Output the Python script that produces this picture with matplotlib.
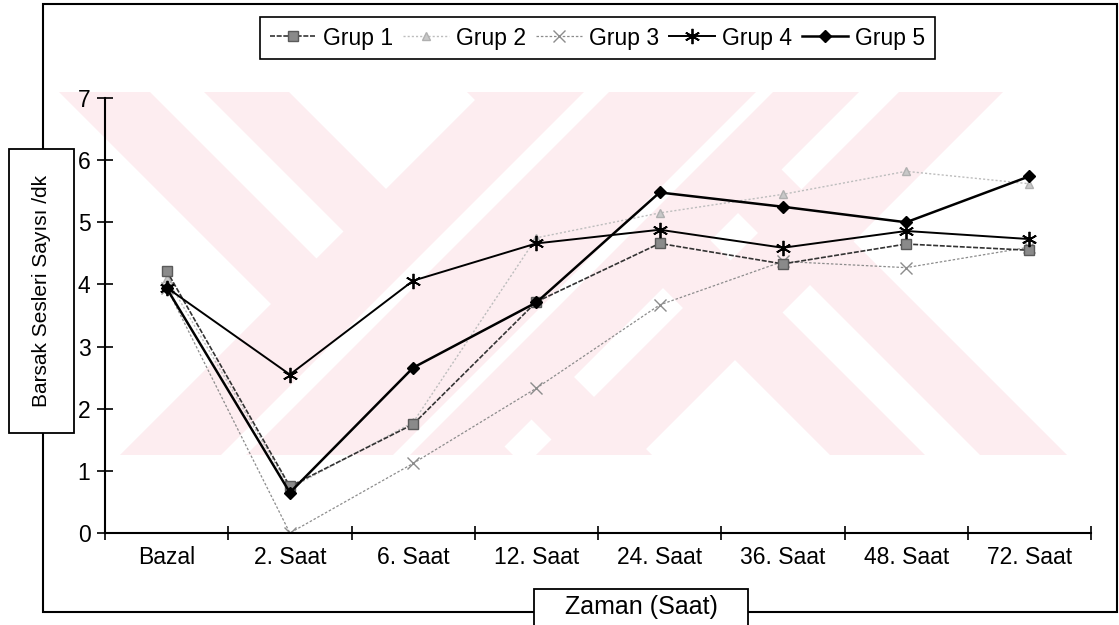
import matplotlib
matplotlib.use('Agg')
import numpy as np
import matplotlib.pyplot as plt
from matplotlib.patches import Polygon, Rectangle

plt.rcParams['font.family'] = ['Liberation Sans', 'DejaVu Sans']

# data
categories = ['Bazal', '2. Saat', '6. Saat', '12. Saat', '24. Saat', '36. Saat', '48. Saat', '72. Saat']
grup1 = [4.22, 0.75, 1.75, 3.72, 4.66, 4.33, 4.65, 4.55]
grup2 = [4.10, 0.72, 1.78, 4.75, 5.15, 5.45, 5.82, 5.62]
grup3 = [3.95, 0.00, 1.12, 2.33, 3.67, 4.37, 4.27, 4.60]
grup4 = [3.95, 2.55, 4.06, 4.66, 4.88, 4.59, 4.86, 4.73]
grup5 = [3.94, 0.65, 2.66, 3.71, 5.48, 5.25, 5.00, 5.74]
series_names = ['Grup 1', 'Grup 2', 'Grup 3', 'Grup 4', 'Grup 5']

W, H = 1119, 625
fig = plt.figure(figsize=(W / 100, H / 100), dpi=100)

def px(x, y):
    # pixel (from top-left) -> figure fraction
    return (x / W, 1 - y / H)

# --- faint watermark in the background
pink = '#fdedf0'
y0, y1 = 92, 455
def band(a, b, back, color):
    if back:   # "\" band, x - y in [a, b]
        pts = [(a + y0, y0), (b + y0, y0), (b + y1, y1), (a + y1, y1)]
    else:      # "/" band, x + y in [a, b]
        pts = [(a - y0, y0), (b - y0, y0), (b - y1, y1), (a - y1, y1)]
    fig.add_artist(Polygon([px(*p) for p in pts], closed=True, facecolor=color,
                           edgecolor='none', transform=fig.transFigure, zorder=-5))

band(-33, 197, True, pink)
band(58, 112, True, 'white')
band(375, 612, True, pink)
band(470, 525, True, 'white')
band(575, 951, False, pink)
band(676, 701, False, 'white')
band(848, 865, False, 'white')
band(991, 1095, False, pink)

# --- outer chart frame
fig.add_artist(Rectangle(px(43, 612), (1117 - 43) / W, (612 - 4) / H, fill=False,
                         edgecolor='black', linewidth=1.5, transform=fig.transFigure, zorder=1))

ax = fig.add_axes([105 / W, 1 - 533 / H, (1091 - 105) / W, (533 - 98) / H])
ax.patch.set_alpha(0)

x = np.arange(len(categories))
ax.plot(x, grup1, color='#333333', linestyle=(0, (3, 1)), lw=1.2, marker='s', ms=6.5,
        mfc='#8a8a8a', mec='#5a5a5a', label=series_names[0], zorder=3)
ax.plot(x, grup2, color='#bdbdbd', linestyle=(0, (1.5, 1.5)), lw=1.0, marker='^', ms=6,
        mfc='#c8c8c8', mec='#b0b0b0', label=series_names[1], zorder=2)
ax.plot(x, grup3, color='#8c8c8c', linestyle=(0, (2, 1.5)), lw=0.9, marker='x', ms=8,
        mew=1.0, label=series_names[2], zorder=2)
ax.plot(x, grup4, color='black', lw=1.4, marker=(6, 2, 0), ms=11, mew=1.3,
        label=series_names[3], zorder=4)
ax.plot(x, grup5, color='black', lw=1.8, marker='D', ms=6.5, label=series_names[4], zorder=5)

ax.set_xlim(-0.5, len(categories) - 0.5)
ax.set_ylim(0, 7)
for s in ['top', 'right']:
    ax.spines[s].set_visible(False)
for s in ['left', 'bottom']:
    ax.spines[s].set_linewidth(1.5)

ax.set_xticks(np.arange(-0.5, len(categories), 1.0))
ax.set_xticklabels([])
ax.set_xticks(x, minor=True)
ax.set_xticklabels(categories, minor=True, fontsize=16.5)
ax.tick_params(axis='x', which='major', direction='inout', length=10, width=1.2)
ax.tick_params(axis='x', which='minor', length=0, pad=9)
ax.set_yticks(range(8))
ax.tick_params(axis='y', direction='inout', length=11, width=1.2, labelsize=16.5, pad=5)

# axis title boxes
fig.add_artist(Rectangle(px(9, 433), 65 / W, 284 / H, facecolor='white', edgecolor='black',
                         linewidth=1.3, transform=fig.transFigure, zorder=5))
fig.text(*px(42, 291), 'Barsak Sesleri Sayısı /dk', rotation=90, ha='center', va='center',
         fontsize=15, zorder=6)
fig.add_artist(Rectangle(px(534, 630), 214 / W, 41 / H, facecolor='white', edgecolor='black',
                         linewidth=1.3, transform=fig.transFigure, zorder=5))
fig.text(*px(641, 607), 'Zaman (Saat)', ha='center', va='center', fontsize=18, zorder=6)

handles, labels = ax.get_legend_handles_labels()
leg = fig.legend(handles, labels, loc='center', bbox_to_anchor=px(597.5, 38), ncol=5,
                 fontsize=16.5, frameon=True, fancybox=False, edgecolor='black', framealpha=1,
                 handlelength=2.0, handletextpad=0.3, columnspacing=0.45, borderpad=0.42,
                 borderaxespad=0)
leg.get_frame().set_linewidth(1.2)

fig.savefig('out.png', dpi=100)
